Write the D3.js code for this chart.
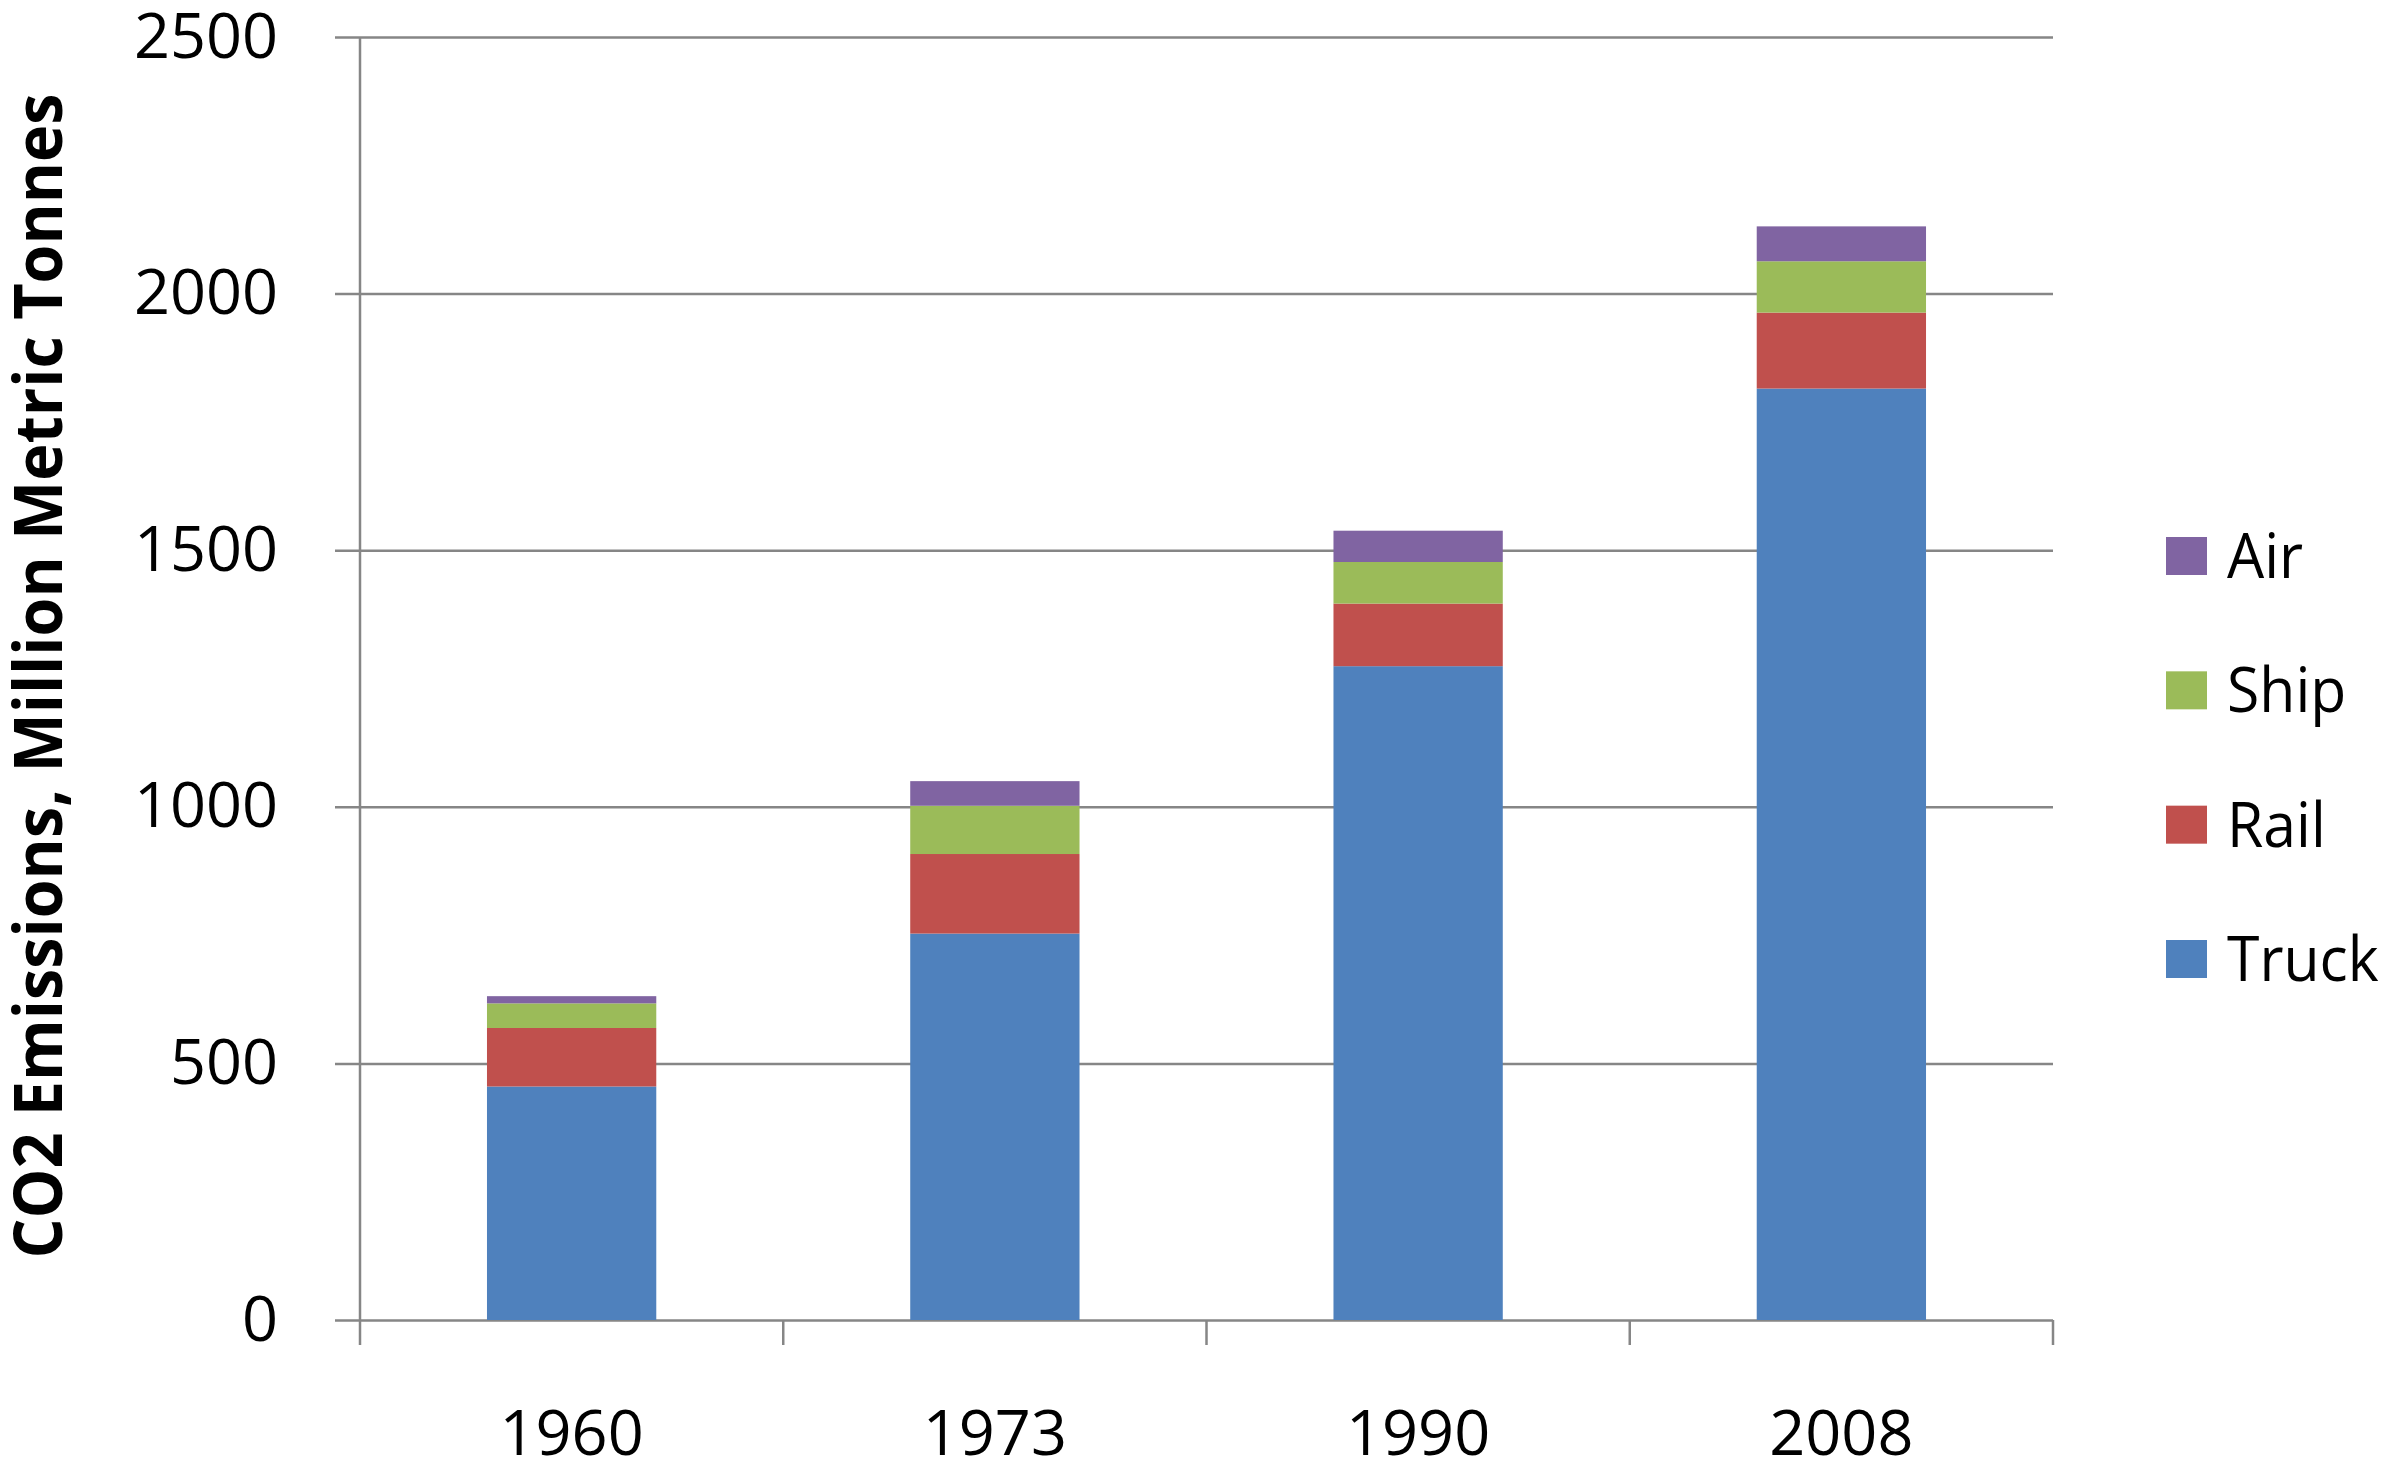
<!DOCTYPE html>
<html>
<head>
<meta charset="utf-8">
<script src="https://cdn.jsdelivr.net/npm/d3@7"></script>
<style>
  html, body { margin: 0; padding: 0; background: #fff; }
  svg { display: block; }
</style>
</head>
<body>
<svg id="chart" width="2392" height="1473"></svg>
<script>
// ------- Data ------
const years = ["1960", "1973", "1990", "2008"];
const truck = [455, 753, 1274, 1815];
const rail = [114, 155, 122, 148];
const ship = [48, 94, 81, 100];
const air = [14, 48, 61, 68];
const modes = ["Truck", "Rail", "Ship", "Air"];
const modeColors = ["#4F81BD", "#C0504D", "#9BBB59", "#8064A2"];
const yTicks = [0, 500, 1000, 1500, 2000, 2500];

const svg = d3.select("#chart");
const font = "'Open Sans', 'Liberation Sans', sans-serif";
const gridColor = "#868686";

const plotLeft = 360, plotRight = 2053, plotTop = 37, plotBottom = 1320;

const x = d3.scaleBand().domain(years).range([plotLeft, plotRight])
  .paddingInner(0.6).paddingOuter(0.3);
const y = d3.scaleLinear().domain([0, 2500]).range([plotBottom, plotTop]);
const color = d3.scaleOrdinal().domain(modes).range(modeColors);

// build rows for the stack
const rows = years.map((yr, i) => ({
  year: yr, Truck: truck[i], Rail: rail[i], Ship: ship[i], Air: air[i]
}));
const series = d3.stack().keys(modes)(rows);

// ------- Y axis + gridlines ------
const yAxis = svg.append("g")
  .attr("transform", `translate(${plotLeft},0)`)
  .call(d3.axisLeft(y).tickValues(yTicks).tickFormat(d3.format("d"))
    .tickSize(25).tickPadding(57));
yAxis.select(".domain").remove();
yAxis.selectAll(".tick line")
  .attr("x1", -25)
  .attr("x2", plotRight - plotLeft)
  .attr("stroke", gridColor)
  .attr("stroke-width", 2.5);
yAxis.selectAll(".tick text")
  .attr("font-family", font)
  .attr("font-size", 63)
  .attr("fill", "#000");

// vertical axis line
svg.append("line")
  .attr("x1", plotLeft).attr("x2", plotLeft)
  .attr("y1", y(2500)).attr("y2", plotBottom + 25)
  .attr("stroke", gridColor)
  .attr("stroke-width", 2.5);

// category boundary ticks under the baseline
const bounds = d3.range(years.length + 1).map(i => x.range()[0] + i * x.step());
svg.selectAll(".xtick")
  .data(bounds.slice(1))
  .enter()
  .append("line")
  .attr("class", "xtick")
  .attr("x1", d => d).attr("x2", d => d)
  .attr("y1", plotBottom).attr("y2", plotBottom + 25)
  .attr("stroke", gridColor)
  .attr("stroke-width", 2.5);

// ------- Bars ------
svg.append("g")
  .selectAll("g")
  .data(series)
  .enter()
  .append("g")
  .attr("fill", d => color(d.key))
  .selectAll("rect")
  .data(d => d)
  .enter()
  .append("rect")
  .attr("x", d => x(d.data.year))
  .attr("width", x.bandwidth())
  .attr("y", d => y(d[1]))
  .attr("height", d => y(d[0]) - y(d[1]));

// ------- X labels ------
const xAxis = svg.append("g")
  .attr("transform", `translate(0,${plotBottom})`)
  .call(d3.axisBottom(x).tickSize(0).tickPadding(90));
xAxis.select(".domain").remove();
xAxis.selectAll(".tick text")
  .attr("font-family", font)
  .attr("font-size", 63)
  .attr("fill", "#000");

// ------- Y title ------
svg.append("text")
  .attr("transform", "translate(62,676) rotate(-90)")
  .attr("text-anchor", "middle")
  .attr("font-family", font)
  .attr("font-weight", "bold")
  .attr("font-size", 66)
  .attr("textLength", 1165)
  .attr("lengthAdjust", "spacingAndGlyphs")
  .attr("fill", "#000")
  .text("CO2 Emissions, Million Metric Tonnes");

// ------- Legend ------
const legendOrder = modes.slice().reverse();
const legendY = d3.scalePoint().domain(legendOrder).range([556, 959]);
const legend = svg.append("g");
const item = legend.selectAll("g")
  .data(legendOrder)
  .enter()
  .append("g")
  .attr("transform", d => `translate(2166,${legendY(d)})`);
item.append("rect")
  .attr("x", 0).attr("y", -19)
  .attr("width", 41).attr("height", 38)
  .attr("fill", d => color(d));
item.append("text")
  .attr("transform", "translate(61,22) scale(0.95,1)")
  .attr("font-family", font)
  .attr("font-size", 62)
  .attr("fill", "#000")
  .text(d => d);
</script>
</body>
</html>
